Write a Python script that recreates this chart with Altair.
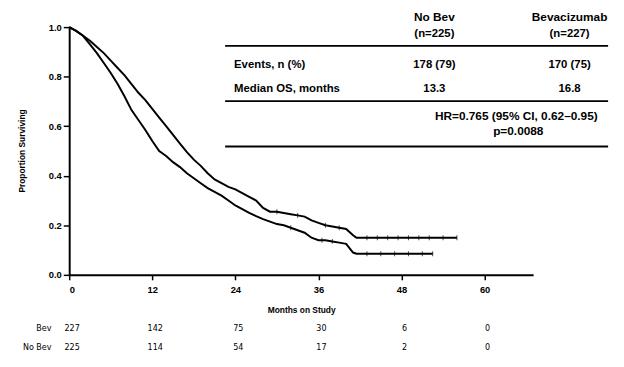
import altair as alt
import pandas as pd

# ---- Kaplan-Meier curves (months, proportion surviving)
bev_months = [0, 1, 2, 3, 4, 5, 6, 7, 8, 9, 10, 11, 12, 13, 14, 15, 16, 17, 18, 19, 20,
              21, 22, 23, 24, 25, 26, 27, 28, 29, 30, 31, 32, 33, 34, 35, 36, 37, 38, 39,
              40, 41, 41.5, 56]
bev_surv = [1.0, 0.985, 0.965, 0.945, 0.92, 0.895, 0.865, 0.835, 0.805, 0.77, 0.735, 0.705,
            0.67, 0.635, 0.60, 0.565, 0.53, 0.495, 0.465, 0.44, 0.41, 0.385, 0.37, 0.355,
            0.345, 0.33, 0.315, 0.30, 0.27, 0.255, 0.255, 0.25, 0.245, 0.24, 0.235, 0.22,
            0.21, 0.20, 0.195, 0.19, 0.185, 0.16, 0.15, 0.15]

nobev_months = [0, 1, 2, 3, 4, 5, 6, 7, 8, 9, 10, 11, 12, 13, 14, 15, 16, 17, 18, 19, 20,
                21, 22, 23, 24, 25, 26, 27, 28, 29, 30, 31, 32, 33, 34, 35, 36, 37, 38, 39,
                40, 41, 41.5, 52.5]
nobev_surv = [1.0, 0.985, 0.965, 0.93, 0.895, 0.855, 0.815, 0.77, 0.72, 0.665, 0.625, 0.585,
              0.54, 0.50, 0.48, 0.455, 0.435, 0.41, 0.39, 0.37, 0.35, 0.335, 0.32, 0.30,
              0.28, 0.265, 0.25, 0.237, 0.225, 0.215, 0.205, 0.20, 0.19, 0.18, 0.17, 0.15,
              0.14, 0.14, 0.135, 0.13, 0.125, 0.09, 0.085, 0.085]

# censoring marks on the tails
bev_cens_months = [30, 33, 37, 39, 43, 44.5, 46, 47.5, 49, 50.5, 52, 54, 56]
bev_cens_surv = [0.255, 0.24, 0.20, 0.19, 0.15, 0.15, 0.15, 0.15, 0.15, 0.15, 0.15, 0.15, 0.15]
nobev_cens_months = [32, 36.5, 38, 43, 45, 47, 49, 51, 52.5]
nobev_cens_surv = [0.19, 0.14, 0.135, 0.085, 0.085, 0.085, 0.085, 0.085, 0.085]

# ---- numbers at risk
risk_months = [0, 12, 24, 36, 48, 60]
risk_bev = [227, 142, 75, 30, 6, 0]
risk_nobev = [225, 114, 54, 17, 2, 0]
risk_labels = ["Bev", "No Bev"]

# ---- axes
x_ticks = [0, 12, 24, 36, 48, 60]
y_ticks = [0.0, 0.2, 0.4, 0.6, 0.8, 1.0]
x_title = "Months on Study"
y_title = "Proportion Surviving"

# ---- inset table
col_heads = ["No Bev", "Bevacizumab"]
col_ns = ["(n=225)", "(n=227)"]
row_heads = ["Events, n (%)", "Median OS, months"]
events = ["178 (79)", "170 (75)"]
medians = ["13.3", "16.8"]
hr_text = "HR=0.765 (95% CI, 0.62\u20130.95)"
p_text = "p=0.0088"

curves = pd.concat([
    pd.DataFrame({"month": bev_months, "surv": bev_surv, "arm": "Bevacizumab"}),
    pd.DataFrame({"month": nobev_months, "surv": nobev_surv, "arm": "No Bev"}),
])
cens = pd.concat([
    pd.DataFrame({"month": bev_cens_months, "surv": bev_cens_surv, "arm": "Bevacizumab"}),
    pd.DataFrame({"month": nobev_cens_months, "surv": nobev_cens_surv, "arm": "No Bev"}),
])
risk = pd.concat([
    pd.DataFrame({"month": risk_months, "n": risk_bev, "row": risk_labels[0]}),
    pd.DataFrame({"month": risk_months, "n": risk_nobev, "row": risk_labels[1]}),
])

FONT = "Liberation Sans"
NARROW = "Liberation Sans Narrow, DejaVu Sans Condensed, sans-serif"

xscale = alt.Scale(domain=[0, 67], nice=False, zero=False)
yscale = alt.Scale(domain=[0, 1], nice=False)

xenc = alt.X("month:Q", scale=xscale,
             axis=alt.Axis(values=x_ticks, title=x_title, grid=False, format="d",
                           domainWidth=2, domainColor="black", tickColor="black",
                           tickWidth=1.5, tickSize=5, labelPadding=5,
                           labelFont=FONT, labelFontSize=9.5, labelFontWeight="bold",
                           labelColor="black", titleFont=FONT, titleFontSize=8.5,
                           titleFontWeight="bold", titleColor="black",
                           titleY=35, titleBaseline="middle"))
yenc = alt.Y("surv:Q", scale=yscale,
             axis=alt.Axis(values=y_ticks, title=y_title, grid=False, format=".1f",
                           domainWidth=2, domainColor="black", tickColor="black",
                           tickWidth=1.5, tickSize=6, labelPadding=2,
                           labelFont=FONT, labelFontSize=9.5, labelFontWeight="bold",
                           labelColor="black", titleFont=FONT, titleFontSize=8.5,
                           titleFontWeight="bold", titleColor="black",
                           titleX=-48, titleY=125, titleBaseline="middle"))

lines = alt.Chart(curves).mark_line(interpolate="linear", color="black",
                                    strokeWidth=2).encode(x=xenc, y=yenc, detail="arm:N")

ticks = alt.Chart(cens).mark_tick(orient="vertical", color="black", size=5,
                                  thickness=1).encode(x="month:Q", y="surv:Q")

risk_y = {risk_labels[0]: 305, risk_labels[1]: 324}
risk_layers = []
for lab in risk_labels:
    sub = risk[risk["row"] == lab]
    risk_layers.append(
        alt.Chart(sub).mark_text(font=NARROW, fontSize=9, color="black", dx=3,
                                 align="center", baseline="middle")
        .encode(x="month:Q", y=alt.value(risk_y[lab]), text="n:Q"))
    risk_layers.append(
        alt.Chart(pd.DataFrame({"t": [lab]})).mark_text(
            font=NARROW, fontSize=9, color="black", align="right", baseline="middle")
        .encode(x=alt.value(-18), y=alt.value(risk_y[lab]), text="t:N"))

one = pd.DataFrame({"k": [0]})


def label(txt, x, y, align="center", size=12, weight="bold"):
    return alt.Chart(pd.DataFrame({"t": [txt]})).mark_text(
        font=FONT, fontSize=size, fontWeight=weight, color="black",
        align=align, baseline="middle").encode(
        x=alt.value(x), y=alt.value(y), text="t:N")


def hrule(y):
    return alt.Chart(one).mark_rule(color="black", strokeWidth=2).encode(
        x=alt.value(158), x2=alt.value(546), y=alt.value(y))


col_x = [370, 507]
table = [
    label(col_heads[0], col_x[0], -10, size=12),
    label(col_heads[1], col_x[1], -10, size=12),
    label(col_ns[0], col_x[0], 7, size=11.5),
    label(col_ns[1], col_x[1], 7, size=11.5),
    hrule(19),
    label(row_heads[0], 167, 38, align="left", size=11.5),
    label(row_heads[1], 167, 63, align="left", size=11.5),
    label(events[0], col_x[0], 38, size=11.5),
    label(events[1], col_x[1], 38, size=11.5),
    label(medians[0], col_x[0], 63, size=11.5),
    label(medians[1], col_x[1], 63, size=11.5),
    hrule(75),
    label(hr_text, 453, 90, size=12),
    label(p_text, 455, 105, size=12),
    hrule(121),
]

chart = alt.layer(lines, ticks, *risk_layers, *table).properties(
    width=470, height=251,
    autosize=alt.AutoSizeParams(type="none"),
    padding={"left": 62, "top": 17, "right": 84, "bottom": 91},
    background="white",
).configure_view(stroke=None)

chart.save("out.html", embed_options={"renderer": "svg", "actions": False})
